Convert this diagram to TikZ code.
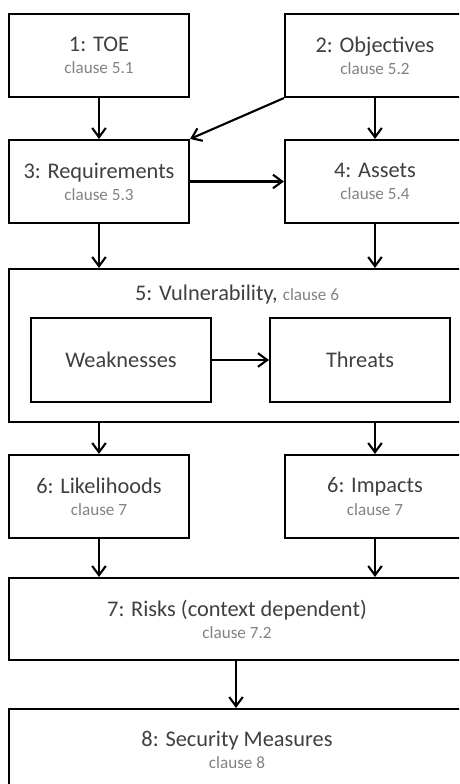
\documentclass[tikz,border=0pt]{standalone}
\usepackage{fontspec}
\setmainfont{Carlito}
\usepackage{xcolor}
\usetikzlibrary{arrows.meta}
\definecolor{titleink}{HTML}{3F3F3F}
\definecolor{clauseink}{HTML}{828282}
\definecolor{boxline}{HTML}{000000}
\newcommand{\clausefont}{\fontsize{12.2pt}{13pt}\selectfont\color{clauseink}}

\begin{document}
\begin{tikzpicture}[
  font=\fontsize{15.9pt}{15.8pt}\selectfont,
  text=titleink,
  line join=miter,
  arr/.style={
    -{Straight Barb[length=2.3mm,width=3.4mm]},
    line width=1.5pt
  },
  stage/.style={
    rectangle,
    draw=boxline,
    line width=1.5pt,
    minimum width=4.5cm,
    minimum height=2.075cm,
    align=center
  },
  wide/.style={
    stage,
    minimum width=11.4cm,
    minimum height=2.05cm
  },
  part/.style={
    stage,
    minimum height=2.1cm
  }
]

\path[use as bounding box,clip] (0,0) rectangle (11.475,-19.6);

% ------------------------------------------------------------
% Inputs
% ------------------------------------------------------------

\node[stage] (toe) at (2.475,-1.3875)
  {1: TOE\\{\clausefont clause 5.1}};
\node[stage] (objectives) at (9.375,-1.3875)
  {2: Objectives\\{\clausefont clause 5.2}};

\node[stage] (requirements) at (2.475,-4.5375)
  {3: Requirements\\{\clausefont clause 5.3}};
\node[stage] (assets) at (9.375,-4.5375)
  {4: Assets\\{\clausefont clause 5.4}};

\draw[arr] (toe.south) -- (requirements.north);
\draw[arr] (objectives.south) -- (assets.north);
\draw[arr] (objectives.south west) -- (requirements.north east);
\draw[arr] (requirements.east) -- (assets.west);

% ------------------------------------------------------------
% Vulnerability
% ------------------------------------------------------------

\node[wide,minimum height=3.825cm] (vulnerability) at (5.925,-8.6375) {};
\node[anchor=base] (vulntitle) at (5.925,-7.5)
  {5: Vulnerability, {\clausefont clause 6}};

\node[part] (weaknesses) at (3.025,-9.0) {Weaknesses};
\node[part] (threats) at (9.0,-9.0) {Threats};

\draw[arr] (weaknesses.east) -- (threats.west);

\draw[arr] (requirements.south) -- (requirements.south |- vulnerability.north);
\draw[arr] (assets.south) -- (assets.south |- vulnerability.north);

% ------------------------------------------------------------
% Likelihoods, impacts and risks
% ------------------------------------------------------------

\node[stage] (likelihoods) at (2.475,-12.4125)
  {6: Likelihoods\\{\clausefont clause 7}};
\node[stage] (impacts) at (9.375,-12.4125)
  {6: Impacts\\{\clausefont clause 7}};

\draw[arr] (likelihoods.north |- vulnerability.south) -- (likelihoods.north);
\draw[arr] (impacts.north |- vulnerability.south) -- (impacts.north);

\node[wide] (risks) at (5.925,-15.475)
  {7: Risks (context dependent)\\{\clausefont clause 7.2}};

\draw[arr] (likelihoods.south) -- (likelihoods.south |- risks.north);
\draw[arr] (impacts.south) -- (impacts.south |- risks.north);

\node[wide] (measures) at (5.925,-18.75)
  {8: Security Measures\\{\clausefont clause 8}};

\draw[arr] ([xshift=-0.025cm]risks.south) -- ([xshift=-0.025cm]measures.north);
\end{tikzpicture}
\end{document}
